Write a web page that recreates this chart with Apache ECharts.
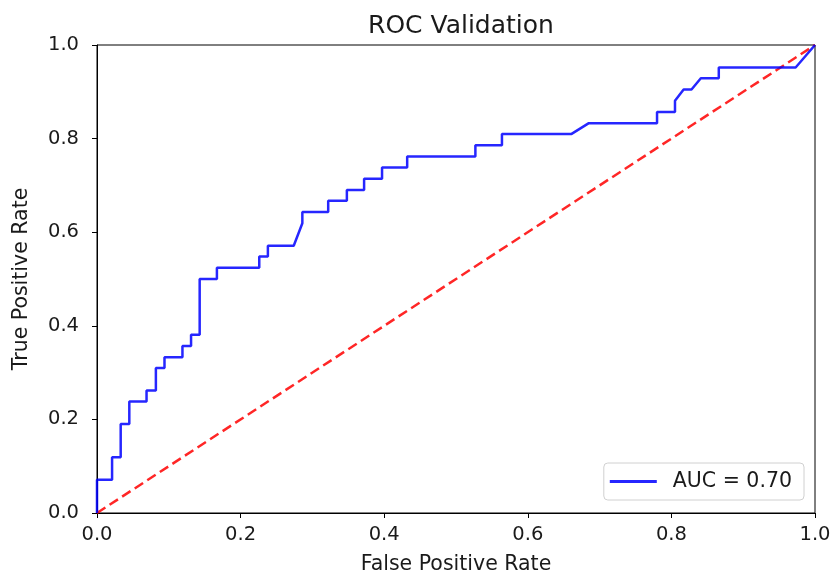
<!DOCTYPE html>
<html><head><meta charset="utf-8">
<script src="https://cdn.jsdelivr.net/npm/echarts@6/dist/echarts.min.js"></script>
<style>html,body{margin:0;padding:0;background:#fff}#c{width:831px;height:582px}</style>
</head><body><div id="c"></div>
<script>
const fpr = [0,0,0.021,0.021,0.033,0.033,0.045,0.045,0.069,0.069,0.082,0.082,0.094,0.094,0.119,0.119,0.131,0.131,0.143,0.143,0.167,0.167,0.226,0.226,0.238,0.238,0.274,0.286,0.286,0.322,0.322,0.348,0.348,0.372,0.372,0.397,0.397,0.432,0.432,0.527,0.527,0.564,0.564,0.661,0.685,0.780,0.780,0.805,0.805,0.817,0.828,0.841,0.866,0.866,0.973,1];
const tpr = [0,0.071,0.071,0.119,0.119,0.190,0.190,0.238,0.238,0.262,0.262,0.310,0.310,0.333,0.333,0.357,0.357,0.381,0.381,0.500,0.500,0.524,0.524,0.548,0.548,0.571,0.571,0.619,0.643,0.643,0.667,0.667,0.690,0.690,0.714,0.714,0.738,0.738,0.762,0.762,0.786,0.786,0.810,0.810,0.833,0.833,0.857,0.857,0.881,0.905,0.905,0.929,0.929,0.952,0.952,1];
const diagX = [0,1];
const diagY = [0,1];
const seriesName = 'AUC = 0.70';
const titleText = 'ROC Validation';

const font = 'DejaVu Sans';
const txt = '#1a1a1a';
const chart = echarts.init(document.getElementById('c'));
const axisCommon = {
  type:'value', min:0, max:1, interval:0.2,
  axisLine:{show:true,lineStyle:{color:'#000',width:1}},
  axisTick:{show:true,inside:false,length:5,lineStyle:{color:'#000'}},
  splitLine:{show:false},
  axisLabel:{color:txt,fontFamily:font,fontSize:19.5,formatter:v=>v.toFixed(1)},
  nameLocation:'middle',
  nameTextStyle:{color:txt,fontFamily:font,fontSize:20.5}
};
chart.setOption({
  animation:false,
  title:{text:titleText,left:456,textAlign:'center',top:9,textStyle:{fontFamily:font,fontSize:25,fontWeight:'normal',color:txt}},
  grid:{left:97,right:16,top:45,bottom:69,show:true,borderColor:'#000',borderWidth:1,backgroundColor:'transparent',
    containLabel:false,outerBoundsMode:'none'},
  legend:{data:[seriesName],right:27,bottom:82,orient:'vertical',
    icon:'rect',
    borderColor:'#d0d0d0',borderWidth:1,borderRadius:4,padding:[8,12,8,6],
    itemWidth:47,itemHeight:3,itemGap:10,
    textStyle:{fontFamily:font,fontSize:20.5,color:txt,padding:[0,0,0,11]}},
  xAxis:Object.assign({},axisCommon,{name:'False Positive Rate',nameGap:41,
    axisLabel:Object.assign({},axisCommon.axisLabel,{margin:12})}),
  yAxis:Object.assign({},axisCommon,{name:'True Positive Rate',nameGap:65,
    axisLabel:Object.assign({},axisCommon.axisLabel,{margin:18})}),
  series:[
    {name:'diag',type:'line',data:diagX.map((x,i)=>[x,diagY[i]]),symbol:'none',
     lineStyle:{color:'rgba(255,0,0,0.85)',width:2.5,type:[10,5]},z:2,silent:true},
    {name:seriesName,type:'line',data:fpr.map((x,i)=>[x,tpr[i]]),symbol:'none',showSymbol:false,
     lineStyle:{color:'rgba(0,0,255,0.85)',width:2.5},itemStyle:{color:'rgba(0,0,255,0.85)'},z:3}
  ]
});
</script></body></html>
